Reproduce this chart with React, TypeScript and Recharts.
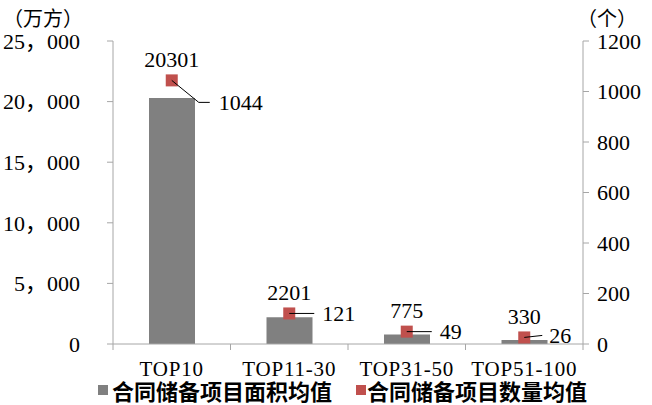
import React from 'react';
import { ComposedChart, Bar, Line, XAxis, YAxis, Legend, LabelList } from 'recharts';

const categories = ['TOP10', 'TOP11-30', 'TOP31-50', 'TOP51-100'];
const areaAvg = [20301, 2201, 775, 330];
const countAvg = [1044, 121, 49, 26];
const leftTicks = [0, 5000, 10000, 15000, 20000, 25000];
const rightTicks = [0, 200, 400, 600, 800, 1000, 1200];
const seriesNames = ['合同储备项目面积均值', '合同储备项目数量均值'];

const data = categories.map((name, i) => ({ name, area: areaAvg[i], count: countAvg[i] }));

const SERIF = "'Liberation Serif', 'Noto Sans CJK SC', serif";
const CJK = "'Noto Sans CJK SC', sans-serif";
const AXIS = '#a6a6a6';
const BAR = '#808080';
const DOT = '#c0504d';

const W = 652;
const H = 405;
const PLOT_LEFT = 113;
const PLOT_RIGHT = 583;
const BAND = (PLOT_RIGHT - PLOT_LEFT) / categories.length;

const fmtThousands = (v: number) =>
  v === 0 ? '0' : `${Math.floor(v / 1000)}，${String(v % 1000).padStart(3, '0')}`;

const XTick = (props: any) => {
  const { x, y, payload, index } = props;
  const last = index === categories.length - 1;
  return (
    <g>
      <line x1={x - BAND / 2} y1={y} x2={x - BAND / 2} y2={y + 6} stroke={AXIS} />
      {last && <line x1={x + BAND / 2} y1={y} x2={x + BAND / 2} y2={y + 6} stroke={AXIS} />}
      <text
        x={x}
        y={y + 25}
        textAnchor="middle"
        dominantBaseline="central"
        fontSize={21}
        letterSpacing={0.8}
        fontFamily={SERIF}
        fill="#000"
      >
        {payload.value}
      </text>
    </g>
  );
};

const SquareDot = (props: any) => {
  const { cx, cy, index } = props;
  if (cx == null || cy == null) return null;
  return <rect key={`sq-${index}`} x={cx - 6} y={cy - 6} width={12} height={12} fill={DOT} />;
};

const AreaLabel = (props: any) => {
  const { x, y, value } = props;
  return (
    <text x={x} y={y - 21} textAnchor="middle" dominantBaseline="central" fontSize={22} fontFamily={SERIF} fill="#000">
      {value}
    </text>
  );
};

const CountLabel = (props: any) => {
  const { x, y, value, index } = props;
  if (index === 0) {
    // label pushed down beside the tall bar
    return (
      <g>
        <polyline points={`${x},${y} ${x + 27},${y + 22} ${x + 38},${y + 22}`} fill="none" stroke="#000" />
        <text x={x + 47} y={y + 22} dominantBaseline="central" fontSize={22} fontFamily={SERIF} fill="#000">
          {value}
        </text>
      </g>
    );
  }
  const last = index === categories.length - 1;
  const lineEnd = last ? 18 : 25;
  const textX = last ? 25 : 33;
  const ty = last ? y - 2 : y;
  return (
    <g>
      <line x1={x} y1={y} x2={x + lineEnd} y2={ty} stroke="#000" />
      <text x={x + textX} y={ty} dominantBaseline="central" fontSize={22} fontFamily={SERIF} fill="#000">
        {value}
      </text>
    </g>
  );
};

const LegendContent = () => (
  <div
    style={{
      display: 'flex',
      alignItems: 'center',
      height: 22,
      paddingLeft: 98,
      fontFamily: CJK,
      fontSize: 22,
      fontWeight: 700,
      color: '#000',
      lineHeight: '22px',
      whiteSpace: 'nowrap',
    }}
  >
    <span style={{ width: 10, height: 10, background: BAR, marginRight: 4, display: 'inline-block' }} />
    <span style={{ marginRight: 24 }}>{seriesNames[0]}</span>
    <span style={{ width: 10, height: 10, background: DOT, marginRight: 1, display: 'inline-block' }} />
    <span>{seriesNames[1]}</span>
  </div>
);

export default function App() {
  return (
    <div style={{ position: 'absolute', left: 0, top: 0, width: W, height: H, background: '#fff' }}>
      <ComposedChart width={W} height={H} data={data} margin={{ top: 41, right: 0, bottom: 4, left: 0 }}>
        <XAxis
          dataKey="name"
          height={35}
          axisLine={{ stroke: AXIS }}
          tickLine={false}
          tickSize={0}
          tickMargin={0}
          tick={<XTick />}
          interval={0}
        />
        <YAxis
          yAxisId="left"
          width={113}
          domain={[0, 25000]}
          ticks={leftTicks}
          tickFormatter={fmtThousands}
          axisLine={{ stroke: AXIS }}
          tickLine={{ stroke: AXIS }}
          tickSize={6}
          tickMargin={27}
          tick={{ fill: '#000', fontSize: 22, fontFamily: SERIF }}
          label={{
            content: () => (
              <text x={3} y={17} dominantBaseline="central" fontSize={20} fontFamily={CJK} fill="#000">
                （万方）
              </text>
            ),
          }}
        />
        <YAxis
          yAxisId="right"
          orientation="right"
          width={69}
          domain={[0, 1200]}
          ticks={rightTicks}
          axisLine={{ stroke: AXIS }}
          tickLine={{ stroke: AXIS }}
          tickSize={6}
          tickMargin={8}
          tick={{ fill: '#000', fontSize: 22, fontFamily: SERIF, textAnchor: 'start' }}
          label={{
            content: () => (
              <text x={577} y={17} dominantBaseline="central" fontSize={20} fontFamily={CJK} fill="#000">
                （个）
              </text>
            ),
          }}
        />
        <Legend verticalAlign="bottom" content={<LegendContent />} wrapperStyle={{ left: 0 }} />
        <Bar yAxisId="left" dataKey="area" name={seriesNames[0]} fill={BAR} barSize={46} isAnimationActive={false} />
        <Line
          yAxisId="right"
          dataKey="count"
          name={seriesNames[1]}
          stroke="none"
          dot={SquareDot}
          activeDot={false}
          isAnimationActive={false}
        >
          <LabelList dataKey="area" content={AreaLabel} />
          <LabelList dataKey="count" content={CountLabel} />
        </Line>
      </ComposedChart>
    </div>
  );
}
